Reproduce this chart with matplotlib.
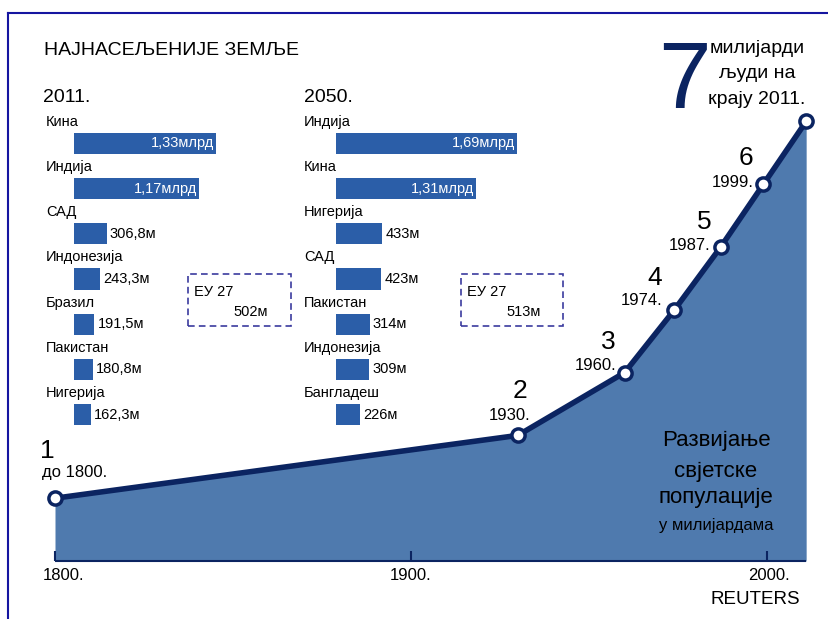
import matplotlib.pyplot as plt
from matplotlib.patches import Rectangle
from matplotlib.lines import Line2D

plt.rcParams['font.family'] = ['Liberation Sans', 'DejaVu Sans']

# world population milestones (billions)
years = [1800, 1930, 1960, 1974, 1987, 1999, 2011]
population = [1, 2, 3, 4, 5, 6, 7]
milestone_years = ['до 1800.', '1930.', '1960.', '1974.', '1987.', '1999.']
axis_years = [1800, 1900, 2000]

# most populated countries (millions)
countries_2011 = ['Кина', 'Индија', 'САД', 'Индонезија', 'Бразил', 'Пакистан', 'Нигерија']
pop_2011 = [1330, 1170, 306.8, 243.3, 191.5, 180.8, 162.3]
labels_2011 = ['1,33млрд', '1,17млрд', '306,8м', '243,3м', '191,5м', '180,8м', '162,3м']

countries_2050 = ['Индија', 'Кина', 'Нигерија', 'САД', 'Пакистан', 'Индонезија', 'Бангладеш']
pop_2050 = [1690, 1310, 433, 423, 314, 309, 226]
labels_2050 = ['1,69млрд', '1,31млрд', '433м', '423м', '314м', '309м', '226м']

eu_name = 'ЕУ 27'
eu_2011 = '502м'
eu_2050 = '513м'

W, H = 829, 619
NAVY = '#0B2461'
AREA = '#4F7AAE'
BAR = '#2B5EA8'


def fx(px):
    return px / W


def fy(py):
    return 1 - py / H


fig = plt.figure(figsize=(W / 100, H / 100), dpi=100)

# main area chart, 3.56 px per year, 62.8 px per billion
ax = fig.add_axes([0, 0, 1, 1])
ax.set_xlim(1800 - 55 / 3.56, 1800 + (W - 55) / 3.56)
ax.set_ylim((561 - H) / 62.8, 561 / 62.8)
ax.axis('off')

ax.fill_between(years, population, 0, color=AREA, lw=0, zorder=1)
ax.plot(years, population, color=NAVY, lw=4, zorder=3, solid_capstyle='round')
ax.plot(years, population, ls='none', marker='o', ms=9.5, mfc='white',
        mec=NAVY, mew=2.5, zorder=4)
ax.hlines(0, years[0], years[-1], color=NAVY, lw=1.5, zorder=2)
ax.vlines(axis_years, 0, 0.16, color=NAVY, lw=1.5, zorder=2)
tick_dx = [9, 0, 2]
for yr, dx in zip(axis_years, tick_dx):
    ax.annotate(f'{yr}.', (yr, 0), xytext=(dx, -14), textcoords='offset pixels',
                ha='center', va='center', fontsize=12)

# milestone labels (offsets in pixels)
num_off = [(-8, 47), (2, 44), (-16, 31), (-20, 32), (-16, 25), (-18, 26)]
yr_off = [(-13, 26, 'left'), (-8, 20, 'center'), (-8, 7, 'right'),
          (-12, 9, 'right'), (-10, 2, 'right'), (-10, 2, 'right')]
for i, lab in enumerate(milestone_years):
    ax.annotate(str(population[i]), (years[i], population[i]), xytext=num_off[i],
                textcoords='offset pixels', ha='center', va='center', fontsize=19)
    dx, dy, ha = yr_off[i]
    ax.annotate(lab, (years[i], population[i]), xytext=(dx, dy),
                textcoords='offset pixels', ha=ha, va='center', fontsize=12)


def bar_panel(left_px, names, vals, labels, name_dx):
    top, bottom = 143.5 - 22.6, 414.5 + 22.6
    bax = fig.add_axes([fx(left_px), fy(bottom), 220 / W, (bottom - top) / H])
    bax.set_xlim(0, 220 / 0.107)
    bax.set_ylim(len(vals) - 0.5, -0.5)
    bax.axis('off')
    bax.barh(range(len(vals)), vals, height=0.465, color=BAR)
    for i, (n, v, lab) in enumerate(zip(names, vals, labels)):
        bax.annotate(n, (0, i), xytext=(name_dx, 21.5), textcoords='offset pixels',
                     ha='left', va='center', fontsize=10.5)
        if v >= 1000:
            bax.annotate(lab, (v, i), xytext=(-2, 0), textcoords='offset pixels',
                         ha='right', va='center', fontsize=10.5, color='white')
        else:
            bax.annotate(lab, (v, i), xytext=(3, 0), textcoords='offset pixels',
                         ha='left', va='center', fontsize=10.5)


bar_panel(74, countries_2011, pop_2011, labels_2011, -28)
bar_panel(336, countries_2050, pop_2050, labels_2050, -32)

# EU boxes
for x0, x1, val in [(188, 291, eu_2011), (461, 563, eu_2050)]:
    fig.add_artist(Rectangle((fx(x0), fy(326)), (x1 - x0) / W, 52 / H, fill=False,
                             ec='#3B3B9E', lw=1.2, ls=(0, (4, 2.5))))
    fig.text(fx(x0 + 6), fy(292), eu_name, ha='left', va='center', fontsize=10.5)
    fig.text(fx(x0 + 45), fy(312), val, ha='left', va='center', fontsize=10.5)

# titles
fig.text(fx(44), fy(50), 'НАЈНАСЕЉЕНИЈЕ ЗЕМЉЕ', ha='left', va='center', fontsize=14)
fig.text(fx(43), fy(97), '2011.', ha='left', va='center', fontsize=14)
fig.text(fx(304), fy(98), '2050.', ha='left', va='center', fontsize=14)

fig.text(fx(684), fy(108), '7', ha='center', va='baseline', fontsize=68, color=NAVY,
         family=['Liberation Sans Narrow', 'Liberation Sans'])
for txt, base in [('милијарди', 53), ('људи на', 78), ('крају 2011.', 104)]:
    fig.text(fx(757), fy(base), txt, ha='center', va='baseline', fontsize=14)

for txt, base, fs in [('Развијање', 446, 16), ('свјетске', 477, 16),
                      ('популације', 503, 16), ('у милијардама', 530, 12)]:
    fig.text(fx(716), fy(base), txt, ha='center', va='baseline', fontsize=fs)

fig.text(fx(800), fy(600), 'REUTERS', ha='right', va='center', fontsize=13.5)

# frame
fig.add_artist(Line2D([fx(8), 1], [fy(13), fy(13)], color='#1515A0', lw=1.5))
fig.add_artist(Line2D([fx(8), fx(8)], [fy(13), 0], color='#1515A0', lw=1.5))

fig.savefig('out.png', dpi=100)
